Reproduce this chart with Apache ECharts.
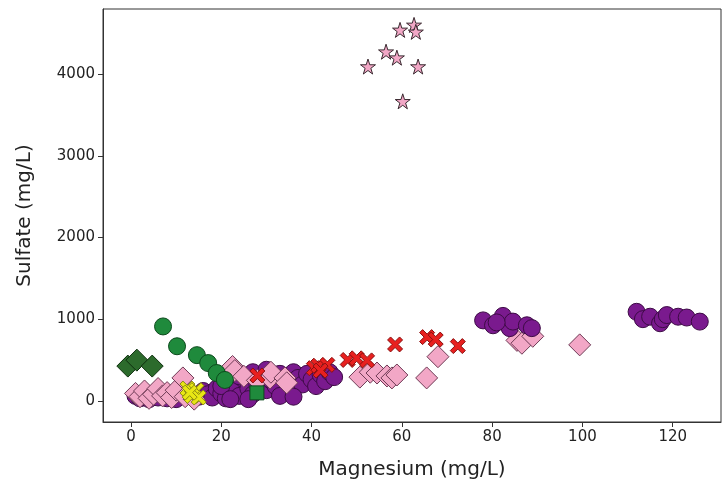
<!DOCTYPE html>
<html>
<head>
<meta charset="utf-8">
<script src="https://cdn.jsdelivr.net/npm/echarts@6/dist/echarts.min.js"></script>
<style>html,body{margin:0;padding:0;background:#fff;}#c{width:725px;height:485px;}</style>
</head>
<body>
<div id="c"></div>
<script>
// ---- data (Magnesium mg/L, Sulfate mg/L) ----
const xTicks = [0, 20, 40, 60, 80, 100, 120];
const yTicks = [0, 1000, 2000, 3000, 4000];
const xName = 'Magnesium (mg/L)';
const yName = 'Sulfate (mg/L)';

const purpleCircles = [
  [1,60],[2,30],[3,70],[4,20],[6,40],[8,30],[10,20],
  [15,50],[16,120],[17,80],[18,40],[19,150],[20,90],[21,30],[22,200],[23,120],[24,60],
  [25,260],[26,150],[27,80],[28,200],[29,300],[30,130],[31,250],[32,180],[33,330],
  [34,260],[35,120],[36,350],[37,280],[38,200],[39,330],[40,260],[41,180],[42,320],
  [43,240],[44,350],[45,290],[20,180],[24,300],[27,350],[30,380],[33,60],[36,50],[22,20],[26,20],
  [78,985],[80.2,925],[82.4,1040],[83.9,890],[84.6,970],[87.7,925],[88.8,890],[81,960],
  [112,1090],[113.4,1000],[115,1030],[117.2,950],[117.8,1000],[118.7,1050],[121.2,1030],[123.1,1020],[126,970]
];
const pinkDiamondsBack = [[85.5,740],[86.6,705],[89,790]];
const pinkDiamonds = [
  [1,90],[2,50],[3,120],[4,30],[5,80],[6,150],[7,60],[8,100],[9,40],[10,130],[11.5,280],[12,50],[14,20],
  [22.5,420],[23,370],[25,300],[28,250],[30.8,280],[31,350],[34.1,280],[34.5,220],
  [50.7,290],[53,350],[54.5,340],[56.7,304],[57.8,280],[58.9,316],[65.5,280],[68,540],[99.4,685]
];
const greenCircles = [[7.1,911],[10.2,668],[14.6,559],[17.1,462],[19.0,340],[20.8,255]];
const greenDiamonds = [[-0.7,425],[1.3,498],[4.7,425]];
const greenSquares = [[27.9,97]];
const redX = [[28,310],[40.5,400],[41.5,430],[43.5,440],[42,370],[48,500],[50,520],[52.3,495],[58.5,690],[65.6,780],[67.5,750],[72.4,670]];
const yellowX = [[12.5,150],[14.5,130],[13.5,60],[15,40],[13,100]];
const pinkStars = [[56.5,4277],[59.6,4544],[62.7,4605],[63.1,4520],[58.9,4204],[52.5,4095],[63.6,4095],[60.2,3669]];

// ---- symbols ----
const X_PATH = 'path://M20,0 L50,30 L80,0 L100,20 L70,50 L100,80 L80,100 L50,70 L20,100 L0,80 L30,50 L0,20 Z';
const STAR_PATH = 'path://M50,0 L61.23,34.55 L97.55,34.55 L68.17,55.9 L79.39,90.45 L50,69.1 L20.61,90.45 L31.83,55.9 L2.45,34.55 L38.77,34.55 Z';

function sc(data, symbol, size, fill, edge, z) {
  return {
    type: 'scatter', data: data, symbol: symbol, symbolSize: size, z: z,
    itemStyle: { color: fill, borderColor: edge, borderWidth: 1, opacity: 1 },
    emphasis: { disabled: true }, animation: false
  };
}

const chart = echarts.init(document.getElementById('c'), null, { renderer: 'canvas' });
const font = 'DejaVu Sans';
chart.setOption({
  backgroundColor: '#fff',
  animation: false,
  grid: { left: 103, right: 4, top: 9, bottom: 60, show: true, borderColor: '#333', borderWidth: 1, backgroundColor: '#fff' },
  xAxis: {
    type: 'value', min: -6.2, max: 130.7,
    name: xName, nameLocation: 'middle', nameGap: 38,
    nameTextStyle: { fontFamily: font, fontSize: 20, color: '#222' },
    axisLine: { show: true, onZero: false, lineStyle: { color: '#333', width: 1 } },
    axisTick: { show: true, length: 5, customValues: xTicks, lineStyle: { color: '#333' } },
    axisLabel: { customValues: xTicks, formatter: v => String(v), fontFamily: font, fontSize: 15, color: '#222', margin: 8 },
    splitLine: { show: false }
  },
  yAxis: {
    type: 'value', min: -260, max: 4800,
    name: yName, nameLocation: 'middle', nameGap: 68,
    nameTextStyle: { fontFamily: font, fontSize: 20, color: '#222' },
    axisLine: { show: true, onZero: false, lineStyle: { color: '#333', width: 1 } },
    axisTick: { show: true, length: 5, customValues: yTicks, lineStyle: { color: '#333' } },
    axisLabel: { customValues: yTicks, formatter: v => String(v), fontFamily: font, fontSize: 15, color: '#222', margin: 8 },
    splitLine: { show: false }
  },
  series: [
    sc(pinkDiamondsBack, 'diamond', 22, '#f2a7c6', '#6e3a55', 1),
    sc(purpleCircles, 'circle', 17, '#7a1a8e', '#3d0b45', 2),
    sc(pinkDiamonds, 'diamond', 22, '#f2a7c6', '#6e3a55', 3),
    sc(greenCircles, 'circle', 17, '#1f8a3c', '#0c4a1c', 4),
    sc(greenDiamonds, 'diamond', 22, '#2c6b2c', '#0f2f0f', 4),
    sc(greenSquares, 'rect', 14, '#1f8a3c', '#0c4a1c', 4),
    sc(redX, X_PATH, 15, '#e8201f', '#8a1010', 5),
    sc(yellowX, X_PATH, 15, '#e8e615', '#8c8a10', 6),
    sc(pinkStars, STAR_PATH, 15, '#f2a7c6', '#3a2a30', 7)
  ]
});
</script>
</body>
</html>
